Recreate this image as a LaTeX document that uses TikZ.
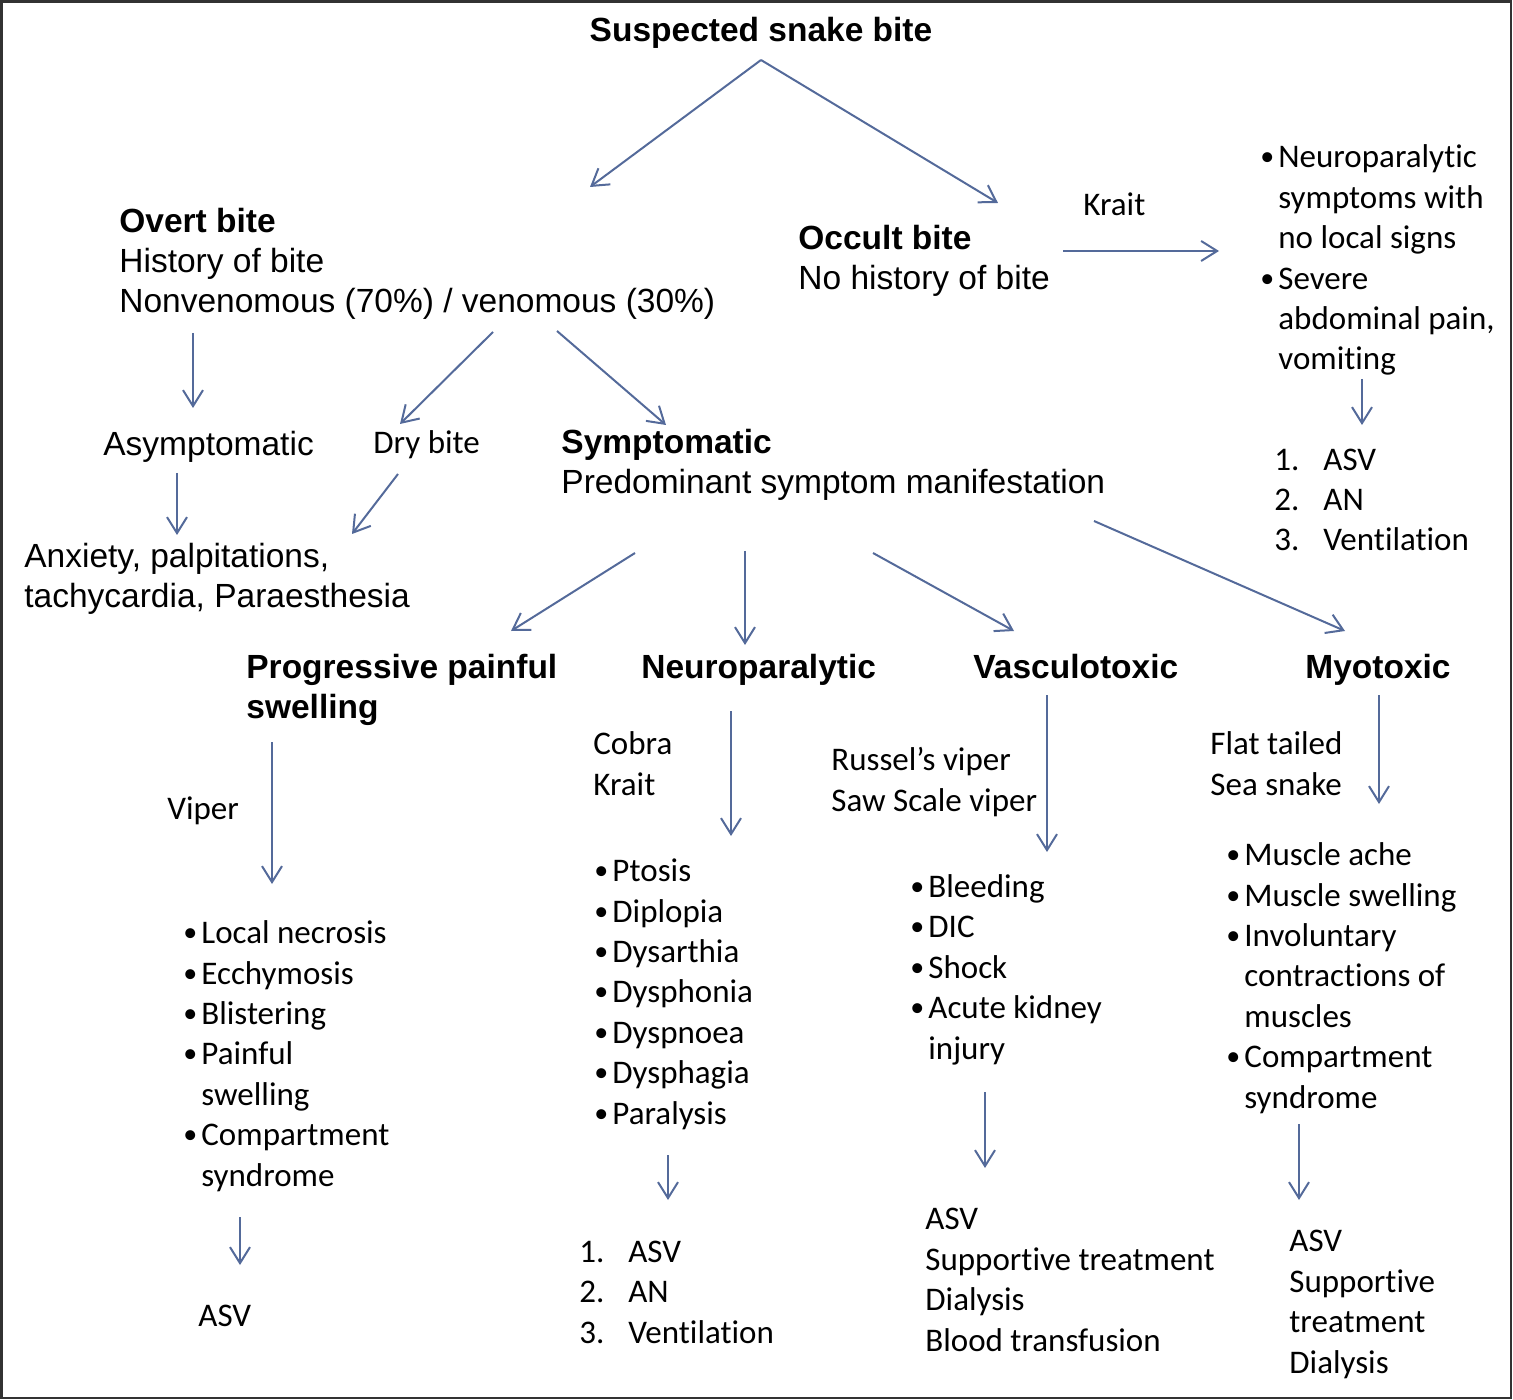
\documentclass[tikz,border=0pt]{standalone}
\usepackage{fontspec}
\setmainfont{Liberation Sans}
\newfontfamily\calf[Ligatures=NoCommon]{Carlito}
\usetikzlibrary{arrows.meta}
\definecolor{arrowc}{RGB}{84,106,154}
\definecolor{framec}{RGB}{50,50,50}
\newcommand\bul{\llap{\makebox[9pt][l]{\raisebox{1pt}{\fontsize{14}{14}\selectfont •}}}}
\newcommand\numlab[1]{\llap{\makebox[24.5pt][l]{#1}}}
\begin{document}
\begin{tikzpicture}[x=0.5pt,y=-0.5pt,
  ar/.style={font=\fontsize{16.75}{20}\selectfont, inner sep=0pt, align=left, anchor=base west},
  arb/.style={font=\fontsize{16.75}{20}\selectfont\bfseries, inner sep=0pt, align=left, anchor=base west},
  cal/.style={font=\calf\fontsize{16.5}{20.2}\selectfont, inner sep=0pt, align=left, anchor=base west},
  arr/.style={draw=arrowc, line width=1pt, -{Straight Barb[length=8pt,width=10pt]}}]
\useasboundingbox (0,0) rectangle (1513,1400);
\draw[framec, line width=1.2pt] (1.5,1.5) rectangle (1511,1398);

% text nodes (multi-line nodes are placed at the baseline of their last line)
\node[arb, anchor=base] (title) at (761,42) {Suspected snake bite};
\node[ar] (overt) at (119,313) {{\bfseries Overt bite}\\History of bite\\Nonvenomous (70\%) / venomous (30\%)};
\node[ar] (occult) at (798,290) {{\bfseries Occult bite}\\No history of bite};
\node[cal] (krait1) at (1083,216) {Krait};
\node[cal] (rlist) at (1278,370) {\bul Neuroparalytic\\symptoms with\\no local signs\\\bul Severe\\abdominal pain,\\vomiting};
\node[cal] (rnum) at (1323,551) {\numlab{1.}ASV\\\numlab{2.}AN\\\numlab{3.}Ventilation};
\node[ar] (asym) at (103,456) {Asymptomatic};
\node[cal] (dry) at (373,454) {Dry bite};
\node[ar] (sympt) at (561,494) {{\bfseries Symptomatic}\\Predominant symptom manifestation};
\node[ar] (anx) at (24,607) {Anxiety, palpitations,\\tachycardia, Paraesthesia};
\node[arb] (prog) at (246,718) {Progressive painful\\swelling};
\node[arb] (neuro) at (641,678) {Neuroparalytic};
\node[arb] (vasc) at (973,678) {Vasculotoxic};
\node[arb] (myo) at (1305,678) {Myotoxic};
\node[cal] (viper) at (167,819) {Viper};
\node[cal] (llist) at (201,1186) {\bul Local necrosis\\\bul Ecchymosis\\\bul Blistering\\\bul Painful\\swelling\\\bul Compartment\\syndrome};
\node[cal] (lasv) at (198,1326) {ASV};
\node[cal] (cobra) at (593,795) {Cobra\\Krait};
\node[cal] (nlist) at (612,1124) {\bul Ptosis\\\bul Diplopia\\\bul Dysarthia\\\bul Dysphonia\\\bul Dyspnoea\\\bul Dysphagia\\\bul Paralysis};
\node[cal] (nnum) at (628,1343) {\numlab{1.}ASV\\\numlab{2.}AN\\\numlab{3.}Ventilation};
\node[cal] (russel) at (831,811) {Russel’s viper\\Saw Scale viper};
\node[cal] (vlist) at (928,1059) {\bul Bleeding\\\bul DIC\\\bul Shock\\\bul Acute kidney\\injury};
\node[cal] (vtreat) at (925,1351) {ASV\\Supportive treatment\\Dialysis\\Blood transfusion};
\node[cal] (flat) at (1210,795) {Flat tailed\\Sea snake};
\node[cal] (mlist) at (1244,1108) {\bul Muscle ache\\\bul Muscle swelling\\\bul Involuntary\\contractions of\\muscles\\\bul Compartment\\syndrome};
\node[cal] (mtreat) at (1289,1373) {ASV\\Supportive\\treatment\\Dialysis};

% connector end points
\coordinate (t-s) at (761,60);
\coordinate (overt-n) at (590,187);
\coordinate (occult-n) at (998,203);
\coordinate (occult-e) at (1063,251);
\coordinate (rlist-w) at (1219,251);
\coordinate (overt-s1) at (193,333);
\coordinate (asym-n) at (193,408);
\coordinate (overt-s2) at (493,332);
\coordinate (dry-n) at (400,424);
\coordinate (overt-s3) at (557,331);
\coordinate (sympt-n) at (666,425);
\coordinate (asym-s) at (177,473);
\coordinate (anx-n1) at (177,535);
\coordinate (dry-s) at (398,474);
\coordinate (anx-n2) at (352,534);
\coordinate (sympt-s1) at (635,553);
\coordinate (prog-n) at (511,631);
\coordinate (sympt-s2) at (745,551);
\coordinate (neuro-n) at (745,645);
\coordinate (sympt-s3) at (873,553);
\coordinate (vasc-n) at (1014,631);
\coordinate (sympt-s4) at (1094,521);
\coordinate (myo-n) at (1345,631);
\coordinate (prog-s) at (272,742);
\coordinate (llist-n) at (272,884);
\coordinate (llist-s) at (240,1217);
\coordinate (lasv-n) at (240,1265);
\coordinate (neuro-s) at (731,711);
\coordinate (nlist-n) at (731,836);
\coordinate (nlist-s) at (668,1155);
\coordinate (nnum-n) at (668,1200);
\coordinate (vasc-s) at (1047,695);
\coordinate (vlist-n) at (1047,852);
\coordinate (vlist-s) at (985,1092);
\coordinate (vtreat-n) at (985,1168);
\coordinate (myo-s) at (1379,695);
\coordinate (mlist-n) at (1379,804);
\coordinate (mlist-s) at (1299,1124);
\coordinate (mtreat-n) at (1299,1200);
\coordinate (rlist-s) at (1362,379);
\coordinate (rnum-n) at (1362,425);

% connectors
\draw[arr] (t-s) -- (overt-n);
\draw[arr] (t-s) -- (occult-n);
\draw[arr] (occult-e) -- (rlist-w);
\draw[arr] (overt-s1) -- (asym-n);
\draw[arr] (overt-s2) -- (dry-n);
\draw[arr] (overt-s3) -- (sympt-n);
\draw[arr] (asym-s) -- (anx-n1);
\draw[arr] (dry-s) -- (anx-n2);
\draw[arr] (sympt-s1) -- (prog-n);
\draw[arr] (sympt-s2) -- (neuro-n);
\draw[arr] (sympt-s3) -- (vasc-n);
\draw[arr] (sympt-s4) -- (myo-n);
\draw[arr] (prog-s) -- (llist-n);
\draw[arr] (llist-s) -- (lasv-n);
\draw[arr] (neuro-s) -- (nlist-n);
\draw[arr] (nlist-s) -- (nnum-n);
\draw[arr] (vasc-s) -- (vlist-n);
\draw[arr] (vlist-s) -- (vtreat-n);
\draw[arr] (myo-s) -- (mlist-n);
\draw[arr] (mlist-s) -- (mtreat-n);
\draw[arr] (rlist-s) -- (rnum-n);
\end{tikzpicture}
\end{document}
